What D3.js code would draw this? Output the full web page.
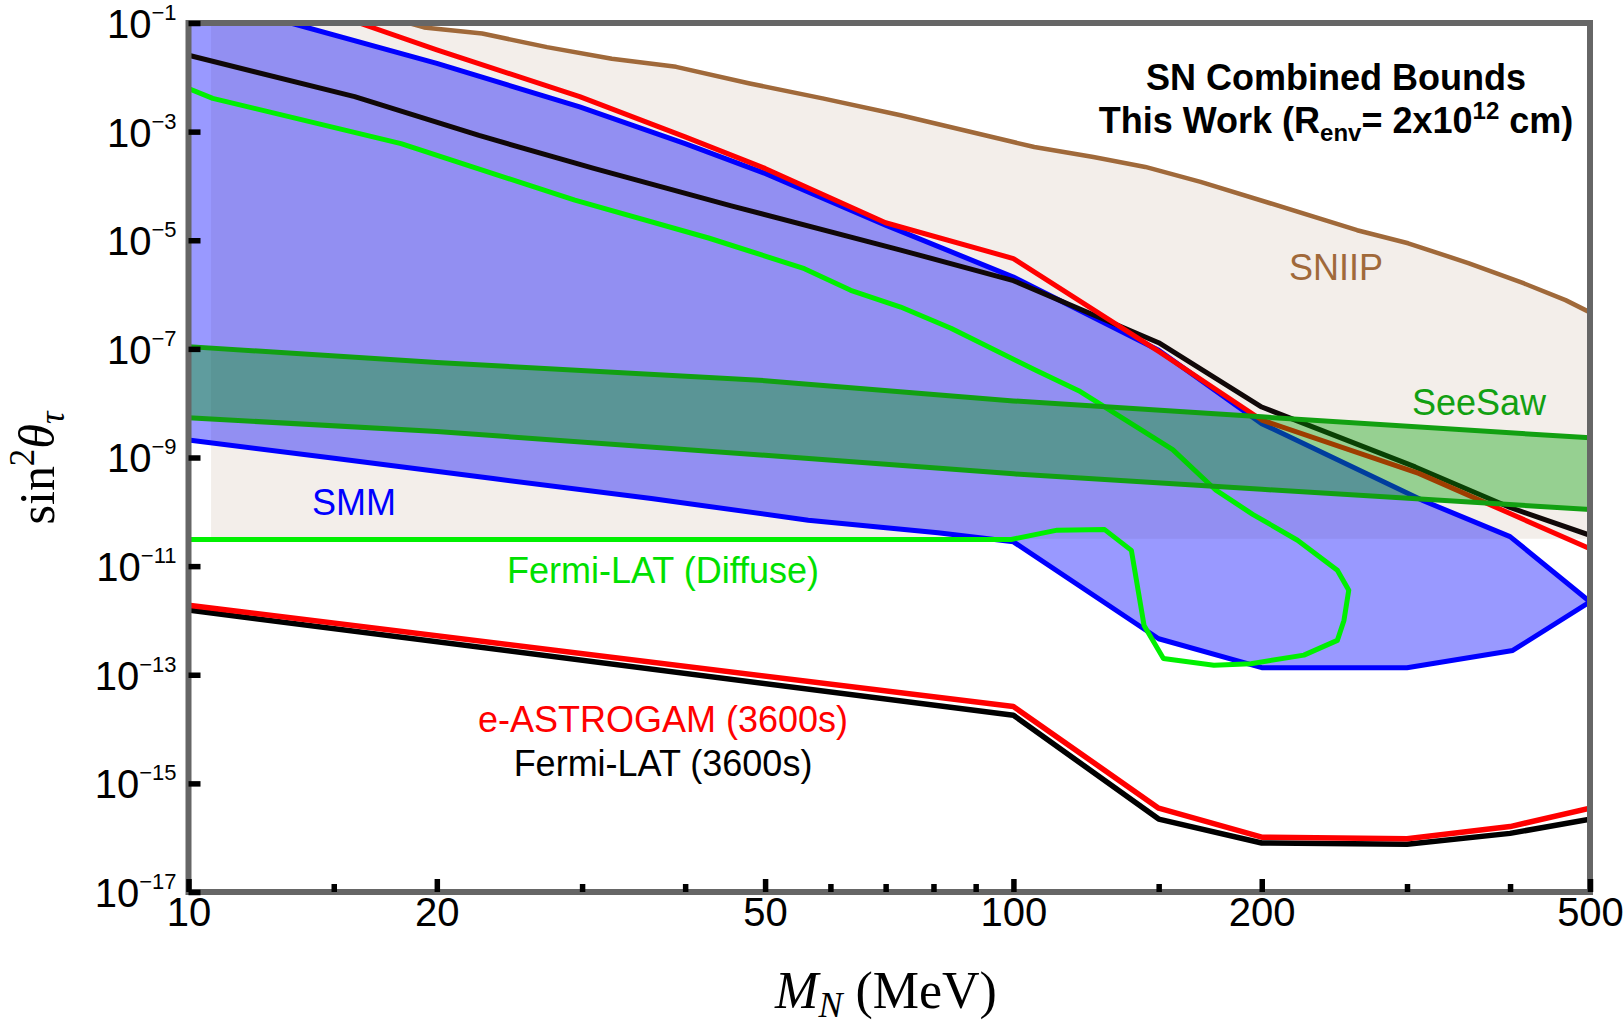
<!DOCTYPE html>
<html>
<head>
<meta charset="utf-8">
<script src="https://cdn.jsdelivr.net/npm/d3@7"></script>
<style>
  html, body { margin: 0; padding: 0; background: #fff; }
  svg { display: block; }
  text { font-family: "Liberation Sans", Arial, Helvetica, sans-serif; }
  .serif { font-family: "Liberation Serif", "Times New Roman", serif; }
</style>
</head>
<body>
<svg id="chart" width="1624" height="1026"></svg>
<script>
// ---- axis ticks ----
const massMajorTicks = [10, 20, 50, 100, 200, 500];
const massMinorTicks = [15, 30, 40, 60, 70, 80, 90, 150, 300, 400];
const mixingTickExponents = [-1, -3, -5, -7, -9, -11, -13, -15, -17];

// ---- SNIIP exclusion (upper edge, minimum mass, floor) : [M_N MeV, sin^2] ----
const sniipEdge = [
  [18.5, 1e-1], [19.3, 8.3e-2], [22.7, 6.4e-2], [27.2, 3.6e-2], [32.6, 2.2e-2],
  [39, 1.56e-2], [47.9, 7.7e-3], [58.7, 4.1e-3], [73, 2.0e-3], [106, 5.2e-4],
  [125, 3.4e-4], [144.5, 2.24e-4], [168.6, 1.19e-4], [204.8, 4.8e-5], [261, 1.53e-5],
  [301, 8.8e-6], [356, 3.8e-6], [416, 1.6e-6], [467, 7.9e-7], [500, 4.7e-7]
];
const sniipMinMass = 10.65;
const sniipFloor = 3.2e-11;

// ---- SMM region: upper boundary then lower boundary ----
const smmUpper = [
  [10, 1e-1], [13.3, 1e-1], [20, 1.8e-2], [29.8, 2.85e-3], [40, 6.0e-4], [50, 1.7e-4],
  [70, 1.9e-5], [100, 2.1e-6], [150, 9.4e-8], [200, 4.2e-9], [314, 1.6e-10],
  [400, 3.5e-11], [500, 2.2e-12]
];
const smmLower = [
  [500, 2.2e-12], [403, 2.8e-13], [300, 1.35e-13], [200, 1.35e-13], [150, 4.6e-13],
  [100, 2.8e-11], [81, 4.1e-11], [56.4, 7.0e-11], [36.4, 1.76e-10], [23.4, 4.1e-10],
  [15.1, 9.6e-10], [10, 2.1e-9]
];

// ---- e-ASTROGAM (3600s): upper and lower edges ----
const eAstrogamTop = [
  [16.1, 1e-1], [20, 3.2e-2], [29.8, 4.4e-3], [40, 8.0e-4], [50, 2.1e-4], [70, 2.1e-5],
  [100, 4.6e-6], [150, 9.0e-8], [200, 4.9e-9], [310, 5.1e-10], [400, 9.3e-11], [500, 2.1e-11]
];
const eAstrogamBottom = [
  [10, 1.9e-12], [100, 2.6e-14], [150, 3.5e-16], [200, 1.02e-16], [300, 9.6e-17],
  [400, 1.6e-16], [500, 3.5e-16]
];

// ---- Fermi-LAT (3600s): upper and lower edges ----
const fermiTop = [
  [10, 2.55e-2], [15.9, 4.4e-3], [22.5, 8.5e-4], [31, 2.1e-4], [45.5, 4.3e-5],
  [73, 6.6e-6], [100, 1.8e-6], [150, 1.3e-7], [200, 8.5e-9], [307, 6.7e-10],
  [400, 1.2e-10], [500, 3.7e-11]
];
const fermiBottom = [
  [10, 1.55e-12], [100, 1.8e-14], [150, 2.2e-16], [200, 8.0e-17], [300, 7.6e-17],
  [400, 1.2e-16], [500, 2.2e-16]
];

// ---- Fermi-LAT (Diffuse) contour ----
const fermiDiffuse = [
  [10, 6.2e-3], [10.7, 4.1e-3], [18.1, 6.0e-4], [29.4, 5.5e-5], [42.7, 1.1e-5],
  [55.8, 3.0e-6], [63.5, 1.2e-6], [73, 5.9e-7], [84, 2.4e-7], [106.6, 4.0e-8],
  [120, 1.7e-8], [156, 1.4e-9], [176, 2.5e-10], [195, 9.0e-11], [221, 3.0e-11],
  [247, 8.4e-12], [255, 3.6e-12], [251.6, 1.0e-12], [247, 4.3e-13], [225, 2.3e-13],
  [194, 1.6e-13], [175, 1.5e-13], [152, 2.0e-13], [144, 8.1e-13], [139, 1.95e-11],
  [129, 4.7e-11], [113, 4.6e-11], [99.4, 3.1e-11], [10, 3.1e-11]
];

// ---- SeeSaw band ----
const seesawUpper = [[10, 1.1e-7], [20, 5.6e-8], [50, 2.6e-8], [100, 1.1e-8], [200, 5.6e-9], [500, 2.3e-9]];
const seesawLower = [[10, 5.4e-9], [20, 3.0e-9], [50, 1.1e-9], [100, 5.0e-10], [200, 2.6e-10], [500, 1.1e-10]];

// ---- layout ----
const plot = { left: 188.5, right: 1590, top: 23, bottom: 892 };
const massDomain = [10, 500];
const mixingDomain = [1e-17, 1e-1];

const svg = d3.select("#chart");
const x = d3.scaleLog().domain(massDomain).range([plot.left, plot.right]);
const y = d3.scaleLog().domain(mixingDomain).range([plot.bottom, plot.top]);
const line = d3.line().x(d => x(d[0])).y(d => y(d[1]));

svg.append("defs").append("clipPath").attr("id", "plotClip")
  .append("rect")
  .attr("x", plot.left).attr("y", plot.top)
  .attr("width", plot.right - plot.left).attr("height", plot.bottom - plot.top);

const g = svg.append("g").attr("clip-path", "url(#plotClip)");

// SNIIP filled region
const sniipPoly = [[sniipMinMass, sniipFloor], [sniipMinMass, mixingDomain[1]]]
  .concat(sniipEdge, [[massDomain[1], sniipFloor]]);
g.append("path").attr("d", line(sniipPoly) + "Z")
  .attr("fill", "rgb(243,238,234)").attr("stroke", "none");

// SMM filled region
const smmPoly = smmUpper.concat(smmLower.slice(1));
g.append("path").attr("d", line(smmPoly) + "Z")
  .attr("fill", "rgba(0,0,255,0.4)").attr("stroke", "none");

// curves
const curves = [
  { data: sniipEdge, color: "#a0693a", width: 4.5 },
  { data: smmPoly, color: "#0000ff", width: 5 },
  { data: fermiTop, color: "#100808", width: 5 },
  { data: eAstrogamTop, color: "#ff0000", width: 5 },
  { data: fermiDiffuse, color: "#00f000", width: 5 },
  { data: fermiBottom, color: "#000000", width: 5.5 },
  { data: eAstrogamBottom, color: "#ff0000", width: 5.5 }
];
curves.forEach(c => {
  g.append("path").attr("d", line(c.data))
    .attr("fill", "none").attr("stroke", c.color).attr("stroke-width", c.width)
    .attr("stroke-linejoin", "round");
});

// SeeSaw band on top
const seesawPoly = seesawUpper.concat(seesawLower.slice().reverse());
g.append("path").attr("d", line(seesawPoly) + "Z")
  .attr("fill", "rgba(0,160,0,0.38)").attr("stroke", "none");
[seesawUpper, seesawLower].forEach(s => {
  g.append("path").attr("d", line(s))
    .attr("fill", "none").attr("stroke", "#12a012").attr("stroke-width", 5);
});

// in-plot labels
const labels = [
  { t: "SNIIP", x: 1336, y: 280, c: "#a0693a" },
  { t: "SeeSaw", x: 1479, y: 415, c: "#12a012" },
  { t: "SMM", x: 354, y: 515, c: "#0000ff" },
  { t: "Fermi-LAT (Diffuse)", x: 663, y: 583, c: "#00e000" },
  { t: "e-ASTROGAM (3600s)", x: 663, y: 732, c: "#ff0000" },
  { t: "Fermi-LAT (3600s)", x: 663, y: 776, c: "#000000" }
];
labels.forEach(l => {
  svg.append("text").attr("x", l.x).attr("y", l.y)
    .attr("text-anchor", "middle").attr("font-size", 36).attr("fill", l.c).text(l.t);
});

// title block
const title = svg.append("g").attr("font-weight", "bold").attr("fill", "#000");
title.append("text").attr("x", 1336).attr("y", 90).attr("text-anchor", "middle")
  .attr("font-size", 36).text("SN Combined Bounds");
const t2 = title.append("text").attr("x", 1336).attr("y", 133).attr("text-anchor", "middle")
  .attr("font-size", 36);
t2.append("tspan").text("This Work (R");
t2.append("tspan").attr("font-size", 24).attr("dy", 8).text("env");
t2.append("tspan").attr("dy", -8).text("= 2x10");
t2.append("tspan").attr("font-size", 24).attr("dy", -14).text("12");
t2.append("tspan").attr("dy", 14).text(" cm)");

// frame
svg.append("rect")
  .attr("x", plot.left).attr("y", plot.top)
  .attr("width", plot.right - plot.left).attr("height", plot.bottom - plot.top)
  .attr("fill", "none").attr("stroke", "#666").attr("stroke-width", 6);

// x axis (ticks pointing inward)
const xMajor = svg.append("g").attr("transform", `translate(0,${plot.bottom})`)
  .call(d3.axisBottom(x).tickValues(massMajorTicks).tickFormat(d3.format("d"))
    .tickSizeInner(-13).tickSizeOuter(0).tickPadding(6));
const xMinor = svg.append("g").attr("transform", `translate(0,${plot.bottom})`)
  .call(d3.axisBottom(x).tickValues(massMinorTicks).tickFormat(() => "")
    .tickSizeInner(-8).tickSizeOuter(0));

// y axis
const yAxis = svg.append("g").attr("transform", `translate(${plot.left},0)`)
  .call(d3.axisLeft(y).tickValues(mixingTickExponents.map(e => Math.pow(10, e)))
    .tickFormat(() => "").tickSizeInner(-12).tickSizeOuter(0).tickPadding(12));

[xMajor, xMinor, yAxis].forEach(a => {
  a.select(".domain").remove();
  a.selectAll(".tick line").attr("stroke", "#000").attr("stroke-width", 5.5);
});
xMajor.selectAll(".tick text")
  .attr("font-size", 40).attr("fill", "#000")
  .attr("font-family", "'Liberation Sans', Arial, sans-serif");

yAxis.selectAll(".tick text").each(function (d) {
  const e = Math.round(Math.log10(d));
  const t = d3.select(this)
    .attr("font-size", 40).attr("fill", "#000").attr("dy", "0.36em")
    .attr("font-family", "'Liberation Sans', Arial, sans-serif");
  t.text(null);
  t.append("tspan").text("10");
  t.append("tspan").attr("font-size", 22).attr("dy", -18).text("\u2212" + Math.abs(e));
});

// axis titles
const xt = svg.append("text").attr("class", "serif").attr("x", 886).attr("y", 1008)
  .attr("text-anchor", "middle").attr("font-size", 52).attr("fill", "#000");
xt.append("tspan").attr("font-style", "italic").text("M");
xt.append("tspan").attr("font-style", "italic").attr("font-size", 36).attr("dy", 9).text("N");
xt.append("tspan").attr("dy", -9).text(" (MeV)");

const yt = svg.append("text").attr("class", "serif")
  .attr("transform", "translate(54,468) rotate(-90)")
  .attr("text-anchor", "middle").attr("font-size", 50).attr("fill", "#000");
yt.append("tspan").text("sin");
yt.append("tspan").attr("font-size", 35).attr("dy", -20).text("2");
yt.append("tspan").attr("font-style", "italic").attr("dy", 20).text("\u03b8");
yt.append("tspan").attr("font-style", "italic").attr("font-size", 35).attr("dy", 10).text("\u03c4");
</script>
</body>
</html>
